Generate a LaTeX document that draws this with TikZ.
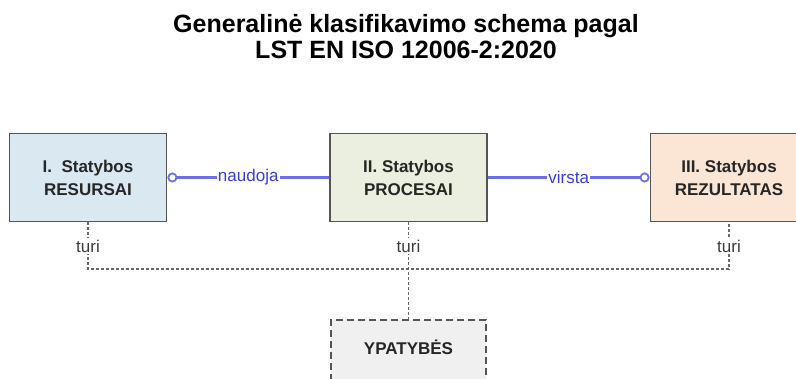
\documentclass[tikz,border=0pt]{standalone}
\usepackage{fontspec}
\setmainfont{Liberation Sans}
\usetikzlibrary{arrows.meta,backgrounds}
\definecolor{resfill}{RGB}{218,233,241}
\definecolor{procfill}{RGB}{235,239,223}
\definecolor{rezfill}{RGB}{251,230,214}
\definecolor{ypfill}{RGB}{240,240,240}
\definecolor{boxedge}{RGB}{85,85,85}
\definecolor{busgray}{RGB}{105,105,105}
\definecolor{relblue}{RGB}{110,110,235}
\definecolor{reltext}{RGB}{60,60,215}
\definecolor{hastext}{RGB}{60,60,60}
\tikzset{
  stagebox/.style={draw=boxedge, line width=1.8pt, minimum width=157pt, minimum height=88pt,
    align=center, font=\fontsize{17}{23}\selectfont\bfseries, text=black!85},
  relation/.style={draw=relblue, line width=2.2pt},
  rellabel/.style={fill=white, inner sep=1pt, text=reltext, font=\fontsize{17}{20}\selectfont},
  haslabel/.style={fill=white, inner sep=2pt, text=hastext, font=\fontsize{17}{20}\selectfont},
  hasline/.style={draw=busgray, line width=1.1pt, dash pattern=on 3pt off 2pt},
  propbox/.style={draw=boxedge, line width=1.6pt, dash pattern=on 7pt off 4pt, fill=ypfill,
    minimum width=155pt, inner sep=0pt, text height=35pt, text depth=52pt,
    font=\fontsize{17}{20}\selectfont\bfseries, text=black!85},
  circ/.tip={Circle[open,length=10pt,width=10pt,line width=1.8pt]},
}
\begin{document}
\begin{tikzpicture}[x=1pt,y=1pt]
\useasboundingbox (0,0) rectangle (796,-378);

% title
\node[align=center, font=\fontsize{25}{26}\selectfont\bfseries] (title) at (406,-37)
  {Generalinė klasifikavimo schema pagal\\LST EN ISO 12006-2:2020};

% the three stages
\node[stagebox, fill=resfill]  (res)  at (88,-177.5)    {I.\ \ Statybos\\RESURSAI};
\node[stagebox, fill=procfill] (proc) at (408.5,-177.5) {II. Statybos\\PROCESAI};
\node[stagebox, fill=rezfill]  (rez)  at (729,-177.5)   {III. Statybos\\REZULTATAS};

% properties box
\node[propbox] (ypat) at (408.5,-319) [anchor=north] {YPATYBĖS};

% "turi" labels and the shared bus
\node[haslabel] (t1) at (88,-246)    {turi};
\node[haslabel] (t2) at (408.5,-246) {turi};
\node[haslabel] (t3) at (729,-246)   {turi};
\coordinate (b1) at (88,-269);
\coordinate (b2) at (408.5,-269);
\coordinate (b3) at (729,-269);

\begin{scope}[on background layer]
  \draw[hasline] (res.south) -- (b1) -- (b3) -- (rez.south);
  \draw[hasline] (proc.south) -- (b2) -- (ypat.north);
\end{scope}

% relations between stages
\draw[relation, circ-] (res.east) -- node[rellabel] (uses) {naudoja} (proc.west);
\draw[relation, -circ] (proc.east) -- node[rellabel] (becomes) {virsta} (rez.west);
\end{tikzpicture}
\end{document}
